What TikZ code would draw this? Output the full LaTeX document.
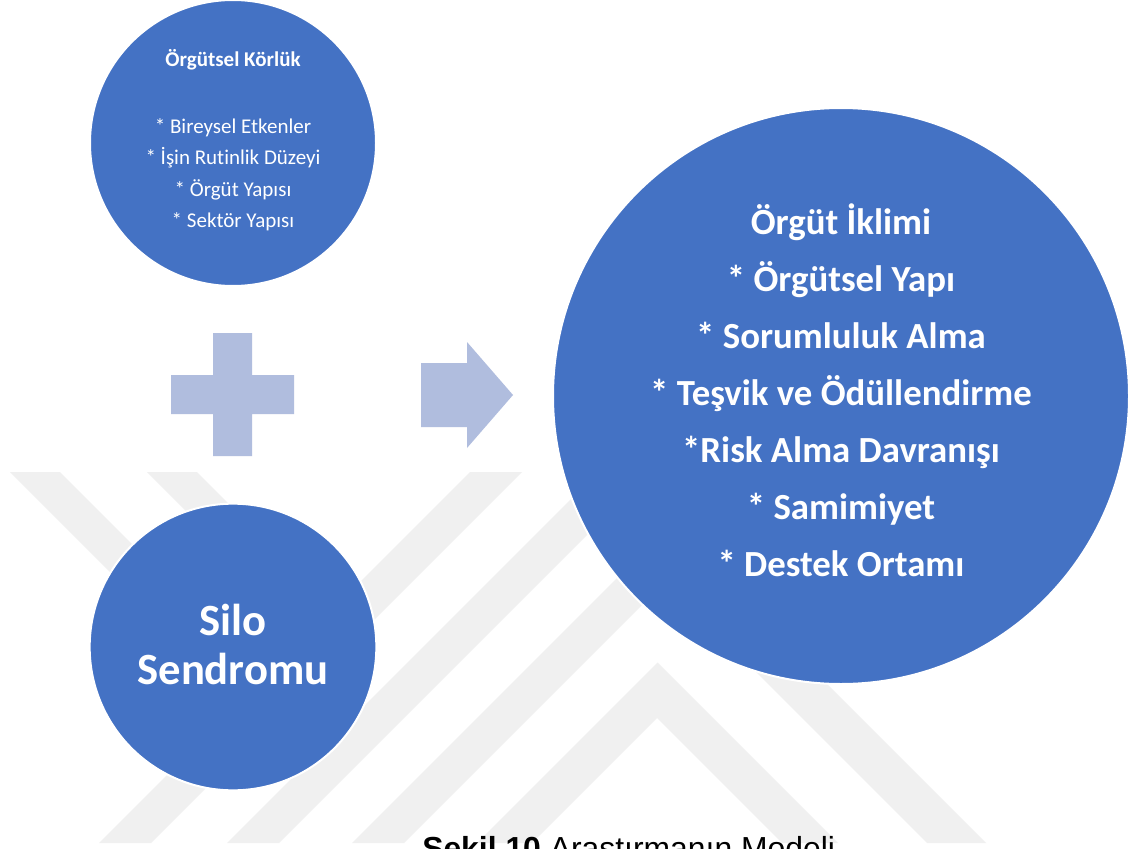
\documentclass[tikz,border=0pt]{standalone}
\usepackage{fontspec}
\setmainfont{Carlito}[Ligatures={NoCommon}]
\newfontfamily\captionfamily{Liberation Sans}
\definecolor{discblue}{RGB}{68,114,196}
\definecolor{signblue}{RGB}{176,189,222}
\definecolor{markgray}{RGB}{240,240,240}

\begin{document}
\begin{tikzpicture}[x=0.75pt,y=-0.75pt,
  disc/.style={circle, fill=discblue, draw=white, line width=1.5pt, inner sep=0pt},
  smallhead/.style={anchor=base, text=white, inner sep=0pt, font=\bfseries\fontsize{15.75}{18}\selectfont},
  smallline/.style={anchor=base, text=white, inner sep=0pt, font=\fontsize{15.75}{18}\selectfont},
  bigline/.style={anchor=base, text=white, inner sep=0pt, font=\bfseries\fontsize{27.6}{33}\selectfont},
  siloline/.style={anchor=base, text=white, inner sep=0pt, font=\bfseries\fontsize{33.5}{40}\selectfont},
  sign/.style={fill=signblue},
  band/.style={fill=markgray}]

\useasboundingbox (0,0) rectangle (1128,849);
\clip (0,0) rectangle (1128,849);
\fill[white] (0,0) rectangle (1128,849);

% faint striped emblem in the background
\begin{scope}
  \clip (0,472) rectangle (1128,843);
  \fill[band] (10,472) -- (60,472) -- (308,720) -- (258,720) -- cycle;
  \fill[band] (147,472) -- (197,472) -- (365,640) -- (315,640) -- cycle;
  \fill[band] (470,472) -- (522,472) -- (151,843) -- (99,843) -- cycle;
  \fill[band] (598,472) -- (650,472) -- (279,843) -- (227,843) -- cycle;
  \fill[band] (669,526) -- (986,843) -- (927,843) -- (665.5,581.5)
              -- (404,843) -- (352,843) -- cycle;
  \fill[band] (657.5,662.5) -- (838,843) -- (782,843) -- (657,718)
              -- (532,843) -- (477,843) -- cycle;
\end{scope}

% the three discs
\node[disc, minimum size=214.5pt] (korluk) at (233,143) {};
\node[disc, minimum size=215pt] (silo) at (233,647) {};
\node[disc, minimum size=432pt] (iklim) at (841,396) {};

% plus sign and arrow
\fill[sign] (213,333) -- (252,333) -- (252,375) -- (294,375) -- (294,414)
  -- (252,414) -- (252,456) -- (213,456) -- (213,414) -- (171,414)
  -- (171,375) -- (213,375) -- cycle;
\fill[sign] (421,363) -- (467,363) -- (467,342) -- (513,395) -- (467,448)
  -- (467,427) -- (421,427) -- cycle;

% small disc text
\node[smallhead] (k0) at (233,67) {Örgütsel Körlük};
\node[smallline] (k1) at (233,133) {* Bireysel Etkenler};
\node[smallline] (k2) at (233,164.5) {* İşin Rutinlik Düzeyi};
\node[smallline] (k3) at (233,196) {* Örgüt Yapısı};
\node[smallline] (k4) at (233,227.5) {* Sektör Yapısı};

% silo disc text
\node[siloline] (s1) at (233,635) {Silo};
\node[siloline] (s2) at (233,684) {Sendromu};

% large disc text
\node[bigline] (i0) at (841,234) {Örgüt İklimi};
\node[bigline] (i1) at (841,291) {* Örgütsel Yapı};
\node[bigline] (i2) at (841,348) {* Sorumluluk Alma};
\node[bigline] (i3) at (841,405) {* Teşvik ve Ödüllendirme};
\node[bigline] (i4) at (841,462) {*Risk Alma Davranışı};
\node[bigline] (i5) at (841,519) {* Samimiyet};
\node[bigline] (i6) at (841,576) {* Destek Ortamı};

% caption, running off the lower edge
\node[anchor=base west, inner sep=0pt, font=\captionfamily\fontsize{23.9}{28}\selectfont]
  (caption) at (422,859) {\textbf{Şekil 10} Araştırmanın Modeli};

\end{tikzpicture}
\end{document}
